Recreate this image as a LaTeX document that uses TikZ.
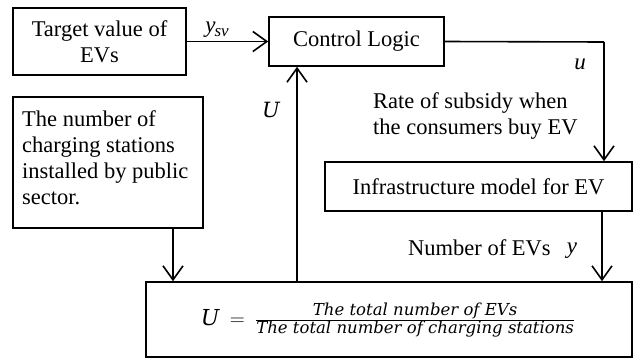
\documentclass[tikz,border=0pt]{standalone}
\usepackage{fontspec}
\setmainfont{Liberation Serif}
\newfontfamily\frfont{DejaVu Serif}
\usetikzlibrary{arrows.meta}
\begin{document}
\begin{tikzpicture}[x=1pt,y=-1pt,
  box/.style={draw,line width=1.6pt,inner sep=0pt},
  txt/.style={font=\fontsize{22.5}{26}\selectfont,inner sep=0pt},
  lbl/.style={font=\fontsize{23}{26}\selectfont\itshape,inner sep=0pt},
  conn/.style={line width=1.6pt,-{Straight Barb[length=14pt,width=20pt,line width=1.6pt]}},
  plain/.style={line width=1.6pt}]
\useasboundingbox (0,0) rectangle (637,359);
% boxes
\node[box,minimum width=173pt,minimum height=67pt] (tv) at (99.5,41.5) {};
\node[txt,align=center] at (tv.center) {Target value of\\EVs};
\node[box,minimum width=175pt,minimum height=49pt] (cl) at (356.5,41.5) {};
\node[txt] at (cl.center) {Control Logic};
\node[box,minimum width=190pt,minimum height=131pt] (ns) at (108,162.5) {};
\node[txt,align=left,anchor=north west] at (22,110) {The number of\\charging stations\\installed by public\\sector.};
\node[box,minimum width=307pt,minimum height=49pt] (im) at (478.5,186.5) {};
\node[txt] at (im.center) {Infrastructure model for EV};
\node[box,minimum width=486pt,minimum height=75pt] (ub) at (389,319.5) {};
\node[inner sep=0pt] at (388,320) {\fontsize{22}{24}\selectfont$\hbox{\frfont\itshape U}\mkern4mu=\mkern4mu\frac{\hbox{\frfont\itshape\fontsize{16.5}{18}\selectfont The total number of EVs}}{\hbox{\frfont\itshape\fontsize{16.5}{18}\selectfont The total number of charging stations}}$};
% coordinates
\coordinate (c1) at (604,42);
\coordinate (nsb) at (173,0);
\coordinate (clb) at (297,0);
\coordinate (imb) at (602,0);
% connectors
\draw[conn] (tv.east) -- (cl.west);
\draw[plain] (cl.east) -- (c1);
\draw[conn] (c1) -- (c1 |- im.north);
\draw[conn] (nsb |- ns.south) -- (nsb |- ub.north);
\draw[conn] (clb |- ub.north) -- (clb |- cl.south);
\draw[conn] (imb |- im.south) -- (imb |- ub.north);
% labels
\node[lbl] at (217,30) {y\kern-1pt\raisebox{-4pt}{\fontsize{17}{18}\selectfont sv}};
\node[lbl] at (580,64) {u};
\node[inner sep=0pt] at (271,110) {\fontsize{21}{24}\selectfont\frfont\itshape U};
\node[txt,align=left,anchor=west] at (373,116) {Rate of subsidy when\\the consumers buy EV};
\node[txt,anchor=west] at (408,248) {Number of EVs};
\node[lbl,anchor=base] at (572,253) {y};
\end{tikzpicture}
\end{document}
